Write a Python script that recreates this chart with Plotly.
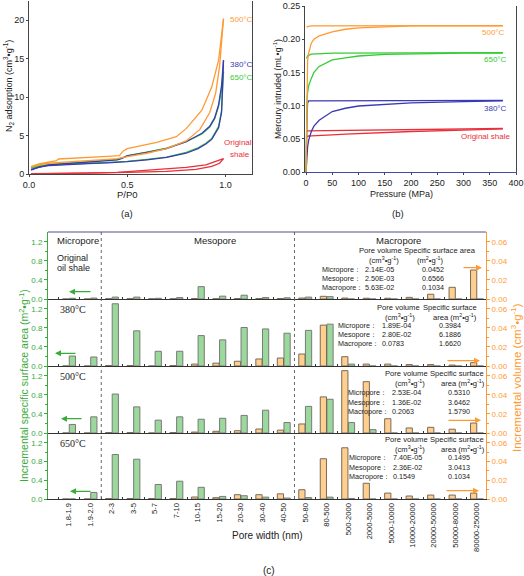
import plotly.graph_objects as go

W, H = 524, 576
SANS = "Liberation Sans, Arial, sans-serif"
SERIF = "Liberation Serif, Times New Roman, serif"

ORANGE = "#ff9a33"
BLUE = "#3a3ab4"
GREEN = "#33cc33"
RED = "#e8303a"
GTXT = "#3aaa3a"
OTXT = "#ff9a33"

# ---------------- (a) N2 adsorption isotherms ----------------
a500_ads_x = [0.01, 0.05, 0.1, 0.2, 0.3, 0.4, 0.45, 0.5, 0.6, 0.7, 0.8, 0.87, 0.92, 0.95, 0.97, 0.99]
a500_ads_y = [0.9, 1.2, 1.4, 1.6, 1.75, 1.9, 2.0, 2.25, 2.7, 3.3, 4.3, 5.8, 8.0, 10.5, 14.0, 20.2]
a500_des_x = [0.99, 0.965, 0.93, 0.88, 0.8, 0.75, 0.65, 0.55, 0.5, 0.48, 0.46, 0.4, 0.3, 0.2, 0.15, 0.14, 0.1, 0.05, 0.01]
a500_des_y = [20.2, 14.8, 11.3, 8.3, 5.9, 4.85, 4.1, 3.55, 3.3, 3.0, 2.4, 2.3, 2.15, 2.0, 1.95, 1.75, 1.55, 1.3, 0.95]

a380_ads_x = [0.01, 0.05, 0.1, 0.2, 0.3, 0.4, 0.5, 0.6, 0.7, 0.8, 0.86, 0.9, 0.93, 0.965, 0.98, 0.99]
a380_ads_y = [0.5, 0.9, 1.1, 1.25, 1.35, 1.45, 1.6, 1.85, 2.15, 2.7, 3.3, 3.9, 4.5, 6.0, 8.0, 14.8]
a380_des_x = [0.99, 0.98, 0.965, 0.945, 0.92, 0.88, 0.8, 0.7, 0.6, 0.5, 0.47, 0.45, 0.3, 0.1, 0.01]
a380_des_y = [14.8, 11.5, 9.0, 7.3, 6.2, 5.3, 4.2, 3.3, 2.8, 2.35, 2.0, 1.85, 1.55, 1.2, 0.6]

a650_ads_x = [0.01, 0.05, 0.1, 0.2, 0.3, 0.4, 0.5, 0.6, 0.7, 0.8, 0.86, 0.9, 0.93, 0.965, 0.98, 0.99]
a650_ads_y = [0.8, 1.0, 1.15, 1.3, 1.4, 1.5, 1.65, 1.9, 2.2, 2.8, 3.4, 4.0, 4.6, 6.2, 8.2, 13.3]
a650_des_x = [0.99, 0.98, 0.965, 0.945, 0.92, 0.88, 0.8, 0.7, 0.6, 0.5, 0.47, 0.45, 0.3, 0.1, 0.01]
a650_des_y = [13.3, 11.0, 8.8, 7.2, 6.1, 5.2, 4.2, 3.35, 2.85, 2.4, 2.05, 1.9, 1.6, 1.25, 0.85]

aorig_ads_x = [0.01, 0.1, 0.3, 0.5, 0.7, 0.85, 0.93, 0.97, 0.99]
aorig_ads_y = [0.02, 0.05, 0.1, 0.2, 0.35, 0.6, 1.0, 1.4, 2.0]
aorig_des_x = [0.99, 0.95, 0.9, 0.8, 0.6, 0.5, 0.45, 0.3, 0.01]
aorig_des_y = [2.0, 1.6, 1.2, 0.85, 0.5, 0.35, 0.2, 0.12, 0.05]

# ---------------- (b) mercury intrusion ----------------
b_int_x = [0, 1, 2, 3, 5, 10, 15, 25, 50, 75, 100, 150, 200, 300, 375]
b500_int_y = [0, 0.1, 0.15, 0.168, 0.179, 0.194, 0.2, 0.205, 0.211, 0.215, 0.217, 0.219, 0.22, 0.22, 0.22]
b650_int_y = [0, 0.08, 0.11, 0.12, 0.13, 0.141, 0.15, 0.159, 0.1687, 0.172, 0.1747, 0.177, 0.178, 0.179, 0.179]
b380_int_y = [0, 0.015, 0.03, 0.038, 0.048, 0.061, 0.069, 0.078, 0.091, 0.096, 0.0994, 0.102, 0.104, 0.106, 0.107]
borig_int_y = [0.053, 0.0533, 0.0536, 0.054, 0.0542, 0.0545, 0.0548, 0.0552, 0.056, 0.057, 0.058, 0.0595, 0.061, 0.063, 0.065]

b500_ext_x = [375, 200, 50, 10, 3, 1]
b500_ext_y = [0.2205, 0.2205, 0.2203, 0.22, 0.219, 0.218]
b650_ext_x = [375, 200, 50, 10, 3, 1]
b650_ext_y = [0.1797, 0.1795, 0.179, 0.1775, 0.175, 0.171]
b380_ext_x = [375, 200, 50, 10, 5, 3, 2, 1, 0.5]
b380_ext_y = [0.108, 0.108, 0.108, 0.108, 0.107, 0.104, 0.09, 0.05, 0.01]
borig_ext_x = [375, 200, 50, 10, 0]
borig_ext_y = [0.0655, 0.064, 0.063, 0.0625, 0.062]

# ---------------- (c) pore size distributions ----------------
categories = ["1.8-1.9", "1.9-2.0", "2-3", "3-5", "5-7", "7-10", "10-15", "15-20", "20-30", "30-40",
              "40-50", "50-80", "80-500", "500-2000", "2000-5000", "5000-10000", "10000-20000",
              "20000-50000", "50000-80000", "80000-250000"]

ssa_orig = [0.015, 0.02, 0.04, 0.04, 0.015, 0.03, 0.26, 0.06, 0.08, 0.03, 0.025, 0.04, 0.05, 0, 0, 0, 0, 0, 0, 0]
vol_orig = [0, 0, 0.0003, 0.0003, 0.0002, 0.0003, 0.0005, 0.0003, 0.0005, 0.0005, 0.0005, 0.001, 0.0028,
            0.001, 0.0008, 0.0008, 0.0017, 0.005, 0.0123, 0.0305]
ssa_380 = [0.21, 0.19, 1.31, 0.74, 0.31, 0.31, 0.64, 0.55, 0.81, 0.78, 0.69, 0.75, 0.88, 0.04, 0, 0, 0, 0, 0, 0]
vol_380 = [0, 0, 0.0005, 0.0005, 0, 0.0005, 0.002, 0.003, 0.005, 0.0074, 0.0084, 0.0126, 0.043,
           0.0098, 0.002, 0.002, 0.0015, 0.0015, 0.001, 0.0035]
ssa_500 = [0.18, 0.34, 0.82, 0.55, 0.27, 0.34, 0.29, 0.31, 0.37, 0.48, 0.22, 0.56, 0.71, 0.22, 0.07, 0, 0, 0, 0, 0]
vol_500 = [0, 0, 0.0005, 0.0005, 0, 0.0005, 0.001, 0.0018, 0.0024, 0.0042, 0.003, 0.0095, 0.038,
           0.0656, 0.054, 0.015, 0.0053, 0.006, 0.004, 0.0105]
ssa_650 = [0, 0.14, 0.95, 0.85, 0.31, 0.38, 0.25, 0.055, 0.07, 0.04, 0.02, 0.03, 0.04, 0.012, 0, 0, 0, 0, 0, 0]
vol_650 = [0, 0, 0.0005, 0.0005, 0.0005, 0.0005, 0.0021, 0.0014, 0.0046, 0.0046, 0.0055, 0.0099, 0.043,
           0.0547, 0.0168, 0.0063, 0.0032, 0.0042, 0.0042, 0.0063]

panel_labels = ["", "380°C", "500°C", "650°C"]
pv_micro = ["2.14E-05", "1.89E-04", "2.53E-04", "7.40E-05"]
pv_meso = ["2.50E-03", "2.80E-02", "1.36E-02", "2.36E-02"]
pv_macro = ["5.63E-02", "0.0783", "0.2063", "0.1549"]
ssa_micro = ["0.0452", "0.3984", "0.5310", "0.1495"]
ssa_meso = ["0.6566", "6.1886", "3.6462", "3.0413"]
ssa_macro = ["0.1034", "1.6620", "1.5790", "0.1034"]


def X(px):
    return px / W


def Y(py):
    return 1 - py / H


fig = go.Figure()


def line(x, y, color, xa, ya):
    fig.add_trace(go.Scatter(x=x, y=y, mode="lines", line=dict(color=color, width=1.3),
                             xaxis=xa, yaxis=ya, showlegend=False, hoverinfo="skip"))


# panel a
for (xs, ys, c) in [(aorig_ads_x, aorig_ads_y, RED), (aorig_des_x, aorig_des_y, RED),
                    (a650_ads_x, a650_ads_y, GREEN), (a650_des_x, a650_des_y, GREEN),
                    (a380_ads_x, a380_ads_y, BLUE), (a380_des_x, a380_des_y, BLUE),
                    (a500_ads_x, a500_ads_y, ORANGE), (a500_des_x, a500_des_y, ORANGE)]:
    line(xs, ys, c, "x", "y")

# panel b
for (xs, ys, c) in [(b_int_x, borig_int_y, RED), (borig_ext_x, borig_ext_y, RED),
                    (b_int_x, b380_int_y, BLUE), (b380_ext_x, b380_ext_y, BLUE),
                    (b_int_x, b650_int_y, GREEN), (b650_ext_x, b650_ext_y, GREEN),
                    (b_int_x, b500_int_y, ORANGE), (b500_ext_x, b500_ext_y, ORANGE)]:
    line(xs, ys, c, "x2", "y2")

# panel c
idx = list(range(len(categories)))
ssa_sets = [ssa_orig, ssa_380, ssa_500, ssa_650]
vol_sets = [vol_orig, vol_380, vol_500, vol_650]
for k in range(4):
    fig.add_trace(go.Bar(x=idx, y=ssa_sets[k], width=0.29, offset=0.01,
                         marker=dict(color="#9bd89b", line=dict(color="#7a7a7a", width=1)),
                         xaxis=f"x{3+k}", yaxis=f"y{3+k}", showlegend=False, hoverinfo="skip"))
    fig.add_trace(go.Bar(x=idx, y=vol_sets[k], width=0.29, offset=-0.30,
                         marker=dict(color="#ffcf8f", line=dict(color="#7a6a5a", width=1)),
                         xaxis=f"x{3+k}", yaxis=f"y{7+k}", showlegend=False, hoverinfo="skip"))

tickfont = dict(family=SANS, size=9, color="#222")
layout = dict(
    width=W, height=H, autosize=False, margin=dict(l=0, r=0, t=0, b=0),
    paper_bgcolor="white", plot_bgcolor="white", showlegend=False, barmode="overlay",
    font=dict(family=SANS, color="#222"),
)

# axes panel a
layout["xaxis"] = dict(domain=[X(29), X(252)], anchor="y", range=[0, 1.135],
                       tickvals=[0, 0.5, 1.0], ticktext=["0.0", "0.5", "1.0"], tickfont=tickfont,
                       showline=True, linecolor="#444", linewidth=1, ticks="outside", ticklen=2,
                       showgrid=False, zeroline=False, automargin=False)
layout["yaxis"] = dict(domain=[Y(174), Y(1)], anchor="x", range=[0, 22.5],
                       tickvals=[0, 5, 10, 15, 20], tickfont=tickfont,
                       showline=True, linecolor="#444", linewidth=1, mirror=True, ticks="outside", ticklen=2,
                       showgrid=False, zeroline=False, automargin=False)
# axes panel b
layout["xaxis2"] = dict(domain=[X(305), X(516)], anchor="y2", range=[-2, 400],
                        tickvals=list(range(0, 401, 50)), tickfont=tickfont,
                        showline=True, linecolor="#4848a8", linewidth=1, ticks="outside", ticklen=2,
                        showgrid=False, zeroline=False, automargin=False)
layout["yaxis2"] = dict(domain=[Y(172), Y(6)], anchor="x2", range=[0, 0.25],
                        tickvals=[0, 0.05, 0.10, 0.15, 0.20, 0.25], tickformat=".2f", tickfont=tickfont,
                        showline=True, linecolor="#444", linewidth=1, mirror=True, ticks="outside", ticklen=2,
                        showgrid=False, zeroline=False, automargin=False)

# axes panel c
bounds = [(232, 299), (299, 366), (366, 433), (433, 499)]
for k, (top, bot) in enumerate(bounds):
    bottom = (k == 3)
    xa = dict(domain=[X(48), X(486)], anchor=f"y{3+k}", range=[-0.98, 19.42],
              tickmode="array", tickvals=idx if bottom else [], ticktext=categories if bottom else [],
              tickangle=-90,
              tickfont=dict(family=SANS, size=7.6, color="#222"), showticklabels=bottom,
              ticks="", showline=True, linecolor="#333", linewidth=1,
              minor=dict(tickmode="array", tickvals=[i + 0.5 for i in range(-1, 20)], ticks="inside",
                         ticklen=2, tickcolor="#333"),
              showgrid=False, zeroline=False, automargin=False)
    layout[f"xaxis{3+k}"] = xa
    layout[f"yaxis{3+k}"] = dict(domain=[Y(bot), Y(top)], anchor=f"x{3+k}", range=[0, 1.41],
                                 tickvals=[0, 0.4, 0.8, 1.2], ticktext=["0.0", "0.4", "0.8", "1.2"],
                                 tickfont=dict(family=SANS, size=8, color=GTXT),
                                 showline=True, linecolor=GTXT, linewidth=1, ticks="outside", ticklen=3,
                                 tickcolor=GTXT,
                                 minor=dict(tickmode="array", tickvals=[0.2, 0.6, 1.0], ticks="outside",
                                            ticklen=2, tickcolor=GTXT),
                                 showgrid=False, zeroline=False, automargin=False)
    layout[f"yaxis{7+k}"] = dict(overlaying=f"y{3+k}", side="right", anchor=f"x{3+k}", range=[0, 0.0705],
                                 tickvals=[0, 0.02, 0.04, 0.06], ticktext=["0.00", "0.02", "0.04", "0.06"],
                                 tickfont=dict(family=SANS, size=8, color=OTXT),
                                 showline=True, linecolor=OTXT, linewidth=1, ticks="outside", ticklen=3,
                                 tickcolor=OTXT,
                                 minor=dict(tickmode="array", tickvals=[0.01, 0.03, 0.05], ticks="outside",
                                            ticklen=2, tickcolor=OTXT),
                                 showgrid=False, zeroline=False, automargin=False)

# shapes: dotted region separators and top border of (c)
shapes = []
for xv in [1.5, 10.5]:
    shapes.append(dict(type="line", xref="x6", yref="paper", x0=xv, x1=xv, y0=Y(499), y1=Y(232),
                       line=dict(color="#666", width=1, dash="dot")))
shapes.append(dict(type="line", xref="paper", yref="paper", x0=X(48), x1=X(486), y0=Y(232), y1=Y(232),
                   line=dict(color="#50508a", width=1)))
layout["shapes"] = shapes

anns = []


def ann(text, x, y, size=8, color="#222", xanchor="center", family=SANS, angle=0):
    anns.append(dict(text=text, x=X(x), y=Y(y), xref="paper", yref="paper", showarrow=False,
                     xanchor=xanchor, yanchor="middle", textangle=angle,
                     font=dict(size=size, color=color, family=family)))


def arrow(xh, yh, dx, color):
    anns.append(dict(text="", x=X(xh), y=Y(yh), xref="paper", yref="paper", ax=dx, ay=0,
                     showarrow=True, arrowhead=2, arrowsize=1, arrowwidth=1.2, arrowcolor=color))


# panel a texts
ann("N<sub>2</sub> adsorption (cm<sup>3</sup>•g<sup>-1</sup>)", 8, 86, size=9, angle=-90)
ann("P/P0", 127, 194, size=9.5)
ann("(a)", 127, 213, size=9.5)
ann("500°C", 228, 20, size=8, color=ORANGE, xanchor="left")
ann("380°C", 228, 64, size=8, color=BLUE, xanchor="left")
ann("650°C", 228, 77, size=8, color=GREEN, xanchor="left")
ann("Original", 222, 143, size=8, color=RED, xanchor="left")
ann("shale", 228, 154, size=8, color=RED, xanchor="left")

# panel b texts
ann("Mercury intruded (mL•g<sup>-1</sup>)", 277, 89, size=8.8, angle=-90)
ann("Pressure (MPa)", 401, 194, size=9)
ann("(b)", 398, 213, size=9.5)
ann("500°C", 480, 33, size=8, color=ORANGE, xanchor="left")
ann("650°C", 482, 59, size=8, color=GREEN, xanchor="left")
ann("380°C", 482, 108, size=8, color=BLUE, xanchor="left")
ann("Original shale", 459, 136, size=8, color=RED, xanchor="left")

# panel c texts
ann("Incremental specific surface area (m<sup>2</sup>•g<sup>-1</sup>)", 23, 386, size=10.5, color=GTXT, angle=-90)
ann("Incremental volume (cm<sup>3</sup>•g<sup>-1</sup>)", 516, 378, size=11.5, color=OTXT, angle=-90)
ann("Pore width (nm)", 267, 535, size=10)
ann("(c)", 269, 570, size=10)
ann("Micropore", 55, 240, size=9.5, xanchor="left")
ann("Mesopore", 215, 240, size=9.5)
ann("Macropore", 398, 240, size=9.5)
ann("Original", 55, 258, size=9, xanchor="left")
ann("oil shale", 55, 268, size=9, xanchor="left")
for k, yv in [(1, 309), (2, 376), (3, 443)]:
    ann(panel_labels[k], 58, yv, size=10, xanchor="left", family=SERIF)

TS = 7.2
tables = [
    dict(h1=(380, 251), h2=440, h2t="Specific surface area", u1=(384, 260), u2=430, u2t="(m<sup>2</sup>•g<sup>-1</sup>)",
         rows=[269, 278, 287], lx=320, vx=363, sx=420),
    dict(h1=(398, 307), h2=450, h2t="Specific surface", u1=(400, 317), u2=455, u2t="area (m<sup>2</sup>•g<sup>-1</sup>)",
         rows=[325, 334, 343], lx=336, vx=380, sx=437),
    dict(h1=(406, 373), h2=457, h2t="Specific surface", u1=(410, 383), u2=463, u2t="area (m<sup>2</sup>•g<sup>-1</sup>)",
         rows=[392, 402, 411], lx=346, vx=390, sx=446),
    dict(h1=(406, 439), h2=457, h2t="Specific surface", u1=(410, 449), u2=463, u2t="area (m<sup>2</sup>•g<sup>-1</sup>)",
         rows=[457, 467, 476], lx=347, vx=391, sx=446),
]
for k, t in enumerate(tables):
    ann("Pore volume", t["h1"][0], t["h1"][1], size=7.6)
    ann(t["h2t"], t["h2"], t["h1"][1], size=7.6)
    ann("(cm<sup>3</sup>•g<sup>-1</sup>)", t["u1"][0], t["u1"][1], size=7.6)
    ann(t["u2t"], t["u2"], t["u1"][1], size=7.6)
    names = ["Micropore：", "Mesopore：", "Macropore："]
    pvs = [pv_micro[k], pv_meso[k], pv_macro[k]]
    ssas = [ssa_micro[k], ssa_meso[k], ssa_macro[k]]
    for r in range(3):
        ann(names[r], t["lx"], t["rows"][r], size=TS, xanchor="left")
        ann(pvs[r], t["vx"], t["rows"][r], size=TS, xanchor="left")
        ann(ssas[r], t["sx"], t["rows"][r], size=TS, xanchor="left")

# arrows
for (xh, yh, dx) in [(69, 291.7, 23), (55, 353.3, 22), (61, 418.7, 22), (70, 491.3, 22)]:
    arrow(xh, yh, dx, GTXT)
for (xh, yh, dx) in [(482, 267.7, -20), (480, 360.7, -34), (481, 420.3, -34), (479, 490.7, -34)]:
    arrow(xh, yh, dx, ORANGE)

layout["annotations"] = anns
fig.update_layout(**layout)
fig.write_html("out.html", config={"displayModeBar": False},
               post_script="document.body.style.margin='0px';document.body.style.padding='0px';")
